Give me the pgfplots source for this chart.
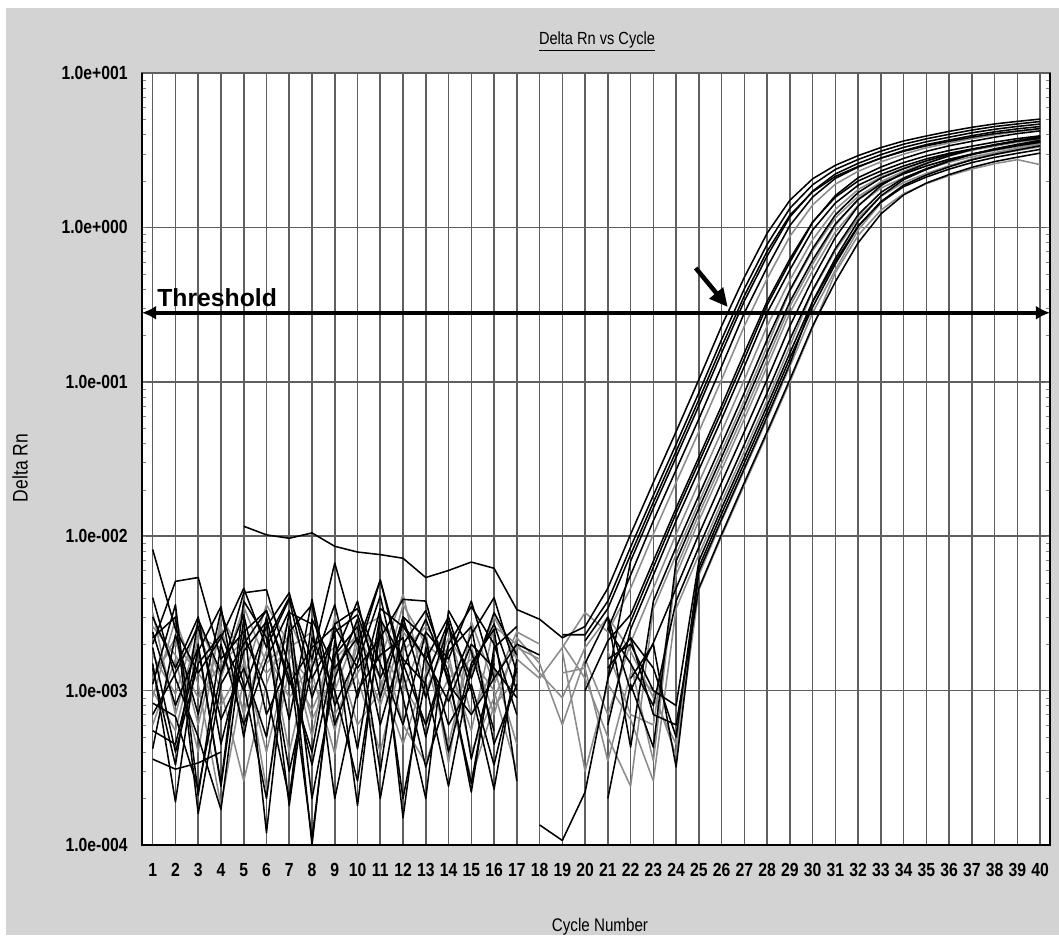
\documentclass[border=0pt]{standalone}
\usepackage{pgfplots}
\pgfplotsset{compat=1.18}
\usepackage{fontspec}
\setmainfont{Liberation Sans}
\newfontfamily\narrowfont{Liberation Sans}[FakeStretch=0.83]
\usetikzlibrary{arrows.meta}
\definecolor{bggray}{RGB}{211,211,211}
\definecolor{gridgray}{RGB}{95,95,95}
\definecolor{lgray}{RGB}{140,140,140}
\begin{document}
\begin{tikzpicture}
\useasboundingbox (0,0) rectangle (26.475cm,23.375cm);
\fill[white] (0,0) rectangle (26.475cm,23.375cm);
\fill[bggray] (0.15cm,0) rectangle (26.475cm,23.175cm);
\begin{axis}[
  at={(3.55cm,2.25cm)}, anchor=south west,
  scale only axis, width=22.7cm, height=19.3cm,
  xmin=0.53, xmax=40.43, ymode=log, ymin=1e-4, ymax=10,
  xtick={1,...,40},
  xticklabels={1,2,3,4,5,6,7,8,9,10,11,12,13,14,15,16,17,18,19,20,21,22,23,24,25,26,27,28,29,30,31,32,33,34,35,36,37,38,39,40},
  ytick={1e-4,1e-3,1e-2,1e-1,1,10},
  yticklabels={1.0e-004,1.0e-003,1.0e-002,1.0e-001,1.0e+000,1.0e+001},
  grid=major, major grid style={gridgray, line width=1.1pt},
  major tick length=0pt,
  axis line style={gridgray, line width=0.8pt},
  axis background/.style={fill=white},
  tick label style={font=\narrowfont\bfseries\fontsize{13.5}{15}\selectfont},
  xticklabel style={anchor=north, inner sep=0pt, yshift=-0.45cm},
  yticklabel style={anchor=east, inner sep=0pt, xshift=-0.35cm},
  clip=false, unbounded coords=jump,
  every axis plot/.append style={line width=1.1pt, line join=round},
]
% gray curves
\addplot[lgray] coordinates {(1,1.7e-3)(2,9.5e-4)(3,2.8e-3)(4,1.2e-3)(5,3.5e-3)(6,1.5e-3)(7,2.2e-3)(8,6.5e-4)(9,1.3e-3)(10,2.8e-3)(11,1.6e-3)(12,4.2e-3)(13,1.0e-3)(14,2.2e-3)(15,1.3e-3)(16,3.0e-3)(17,1.6e-3)(18,1.2e-3)(19,1.9e-3)(20,3.2e-3)(21,2.4e-3)(22,4.6e-3)(23,0.0103)(24,0.0223)(25,0.0476)(26,0.1035)(27,0.23)(28,0.466)(29,0.875)(30,1.40)(31,1.907)(32,2.31)(33,2.66)(34,2.98)(35,3.28)(36,3.52)(37,3.76)(38,3.98)(39,4.18)(40,4.33)};
\addplot[lgray] coordinates {(1,1.2e-3)(2,2.2e-3)(3,6.0e-4)(4,2.6e-3)(5,7.0e-4)(6,2.4e-3)(7,4.0e-4)(8,1.8e-3)(9,5.5e-4)(10,2.0e-3)(11,8.0e-4)(12,2.4e-3)(13,1.6e-3)(14,4.5e-4)(15,1.9e-3)(16,7.0e-4)(17,2.2e-3)(18,1.5e-3)(19,6.0e-4)(20,1.6e-3)(21,7.0e-4)(22,2.04e-3)(23,4.6e-3)(24,0.0103)(25,0.0223)(26,0.0476)(27,0.1035)(28,0.23)(29,0.456)(30,0.834)(31,1.309)(32,1.76)(33,2.12)(34,2.42)(35,2.70)(36,2.96)(37,3.17)(38,3.38)(39,3.57)(40,3.73)};
\addplot[lgray] coordinates {(1,2.6e-3)(2,1.7e-3)(3,9.0e-4)(4,1.5e-3)(5,2.1e-3)(6,1.3e-3)(7,1.9e-3)(8,2.4e-3)(9,1.0e-3)(10,2.5e-3)(11,3.0e-3)(12,1.1e-3)(13,6.0e-4)(14,1.2e-3)(15,1.6e-3)(16,1.0e-3)(17,3.0e-4)(18,nan)(19,2.0e-3)(20,1.2e-3)(21,5.0e-4)(22,2.4e-4)(23,3.4e-3)(24,7.6e-3)(25,0.0166)(26,0.0355)(27,0.076)(28,0.17)(29,0.388)(30,0.708)(31,1.153)(32,1.589)(33,1.955)(34,2.237)(35,2.507)(36,2.753)(37,2.96)(38,3.15)(39,3.33)(40,3.49)};
\addplot[lgray] coordinates {(1,9.0e-4)(2,2.9e-3)(3,1.1e-3)(4,1.8e-4)(5,1.2e-3)(6,3.6e-3)(7,2.0e-3)(8,5.0e-4)(9,3.0e-3)(10,1.2e-3)(11,4.0e-4)(12,1.8e-3)(13,2.6e-3)(14,1.7e-3)(15,4.0e-4)(16,9.0e-4)(17,1.9e-3)(18,1.6e-3)(19,nan)(21,1.8e-3)(22,7.0e-4)(23,6.0e-4)(24,5.6e-3)(25,0.0126)(26,0.0269)(27,0.0575)(28,0.126)(29,0.28)(30,0.525)(31,0.937)(32,1.389)(33,1.80)(34,2.10)(35,2.38)(36,2.64)(37,2.87)(38,3.05)(39,3.25)(40,3.42)};
\addplot[lgray] coordinates {(1,1.3e-3)(2,2.0e-3)(3,1.3e-3)(4,8.0e-4)(5,1.5e-3)(6,4.0e-4)(7,1.7e-3)(8,1.1e-3)(9,7.0e-4)(10,1.3e-3)(11,2.2e-3)(12,6.0e-4)(13,3.4e-4)(14,9.5e-4)(15,2.7e-4)(16,8.0e-4)(17,1.2e-3)(18,nan)(19,1.8e-3)(20,3.0e-4)(21,1.1e-3)(22,6.5e-4)(23,2.6e-4)(24,3.4e-3)(25,7.6e-3)(26,0.0166)(27,0.0355)(28,0.076)(29,0.17)(30,0.388)(31,0.708)(32,1.153)(33,1.589)(34,1.955)(35,2.237)(36,2.507)(37,2.753)(38,2.96)(39,3.15)(40,3.33)};
\addplot[lgray] coordinates {(1,1.0e-3)(2,5.5e-4)(3,2.2e-3)(4,1.9e-3)(5,7.5e-4)(6,1.8e-3)(7,9.0e-4)(8,1.5e-3)(9,1.9e-3)(10,6.0e-4)(11,1.0e-3)(12,3.6e-3)(13,2.0e-3)(14,1.5e-3)(15,5.5e-4)(16,2.6e-3)(17,2.0e-3)(18,1.3e-3)(19,9.0e-4)(20,1.9e-3)(21,3.0e-3)(22,1.8e-3)(23,9.0e-4)(24,4.5e-4)(25,5.6e-3)(26,0.0126)(27,0.0269)(28,0.0575)(29,0.126)(30,0.28)(31,0.532)(32,0.962)(33,1.44)(34,1.876)(35,2.20)(36,2.50)(37,2.78)(38,3.02)(39,3.22)(40,3.43)};
\addplot[lgray] coordinates {(1,6.0e-4)(2,1.6e-3)(3,4.0e-4)(4,3.0e-3)(5,1.7e-3)(6,2.3e-4)(7,1.4e-3)(8,7.5e-4)(9,1.6e-3)(10,2.3e-3)(11,1.2e-3)(12,4.5e-4)(13,1.3e-3)(14,2.5e-3)(15,7.0e-4)(16,1.4e-3)(17,4.5e-4)(18,nan)(19,1.3e-3)(20,1.4e-3)(21,3.5e-4)(22,1.3e-3)(23,1.0e-3)(24,3.8e-4)(25,4.5e-3)(26,0.010)(27,0.0215)(28,0.046)(29,0.10)(30,0.224)(31,0.51)(32,0.888)(33,1.294)(34,1.657)(35,1.922)(36,2.165)(37,2.39)(38,2.587)(39,2.746)(40,2.55)};
\addplot[lgray] coordinates {(1,3.2e-3)(2,7.0e-4)(3,2.4e-3)(4,1.0e-3)(5,2.6e-4)(6,1.1e-3)(7,2.9e-3)(8,1.3e-3)(9,3.9e-4)(10,2.4e-3)(11,1.9e-3)(12,1.0e-3)(13,2.4e-3)(14,3.4e-4)(15,2.8e-3)(16,1.1e-3)(17,2.4e-3)(18,2.0e-3)(19,nan)(22,1.5e-3)(23,3.5e-4)(24,6.2e-3)(25,0.0139)(26,0.0296)(27,0.0633)(28,0.139)(29,0.308)(30,0.578)(31,1.031)(32,1.528)(33,1.98)(34,2.31)(35,2.62)(36,2.90)(37,3.16)(38,3.36)(39,3.58)(40,3.76)};
% black curves
\addplot[black] coordinates {(5,1.16e-2)(6,1.02e-2)(7,9.7e-3)(8,1.05e-2)(9,8.6e-3)(10,7.9e-3)(11,7.6e-3)(12,7.2e-3)(13,5.4e-3)(14,6.0e-3)(15,6.8e-3)(16,6.2e-3)(17,3.35e-3)(18,2.9e-3)(19,2.2e-3)(20,2.6e-3)(21,4.6e-3)(22,0.0103)(23,0.0223)(24,0.0476)(25,0.1035)(26,0.23)(27,0.476)(28,0.917)(29,1.50)(30,2.065)(31,2.527)(32,2.917)(33,3.29)(34,3.63)(35,3.91)(36,4.19)(37,4.45)(38,4.68)(39,4.86)(40,5.03)};
\addplot[black] coordinates {(1,8.2e-3)(2,2.5e-3)(3,1.3e-3)(4,2.2e-3)(5,4.6e-3)(6,1.9e-3)(7,3.9e-3)(8,9.0e-4)(9,2.4e-3)(10,3.1e-3)(11,1.2e-3)(12,2.7e-3)(13,1.6e-3)(14,8.5e-4)(15,2.0e-3)(16,1.4e-3)(17,9.0e-4)(18,nan)(19,2.3e-3)(20,2.3e-3)(21,3.8e-3)(22,8.5e-3)(23,0.0184)(24,0.0394)(25,0.085)(26,0.188)(27,0.401)(28,0.777)(29,1.33)(30,1.89)(31,2.375)(32,2.754)(33,3.12)(34,3.46)(35,3.75)(36,4.01)(37,4.27)(38,4.50)(39,4.68)(40,4.85)};
\addplot[black] coordinates {(1,4.2e-4)(2,2.3e-3)(3,7.0e-4)(4,3.3e-3)(5,1.1e-3)(6,2.0e-4)(7,2.4e-3)(8,3.6e-3)(9,6.0e-4)(10,1.5e-3)(11,4.1e-3)(12,9.0e-4)(13,2.0e-4)(14,3.3e-3)(15,1.8e-3)(16,5.5e-4)(17,nan)(20,2.1e-3)(21,3.4e-3)(22,7.6e-3)(23,0.0166)(24,0.0355)(25,0.0765)(26,0.169)(27,0.361)(28,0.70)(29,1.20)(30,1.70)(31,2.14)(32,2.48)(33,2.81)(34,3.11)(35,3.38)(36,3.61)(37,3.84)(38,4.05)(39,4.21)(40,4.37)};
\addplot[black] coordinates {(1,2.0e-3)(2,5.1e-3)(3,5.4e-3)(4,1.6e-3)(5,2.4e-3)(6,3.3e-3)(7,1.1e-3)(8,1.9e-3)(9,2.6e-3)(10,1.4e-3)(11,2.2e-3)(12,3.9e-3)(13,3.8e-3)(14,1.1e-3)(15,7e-4)(16,1.2e-3)(17,nan)(18,1.35e-4)(19,1.07e-4)(20,2.2e-4)(21,1.2e-3)(22,6.9e-3)(23,0.0152)(24,0.0325)(25,0.070)(26,0.154)(27,0.334)(28,0.653)(29,1.168)(30,1.72)(31,2.22)(32,2.60)(33,2.96)(34,3.30)(35,3.59)(36,3.84)(37,4.10)(38,4.32)(39,4.51)(40,4.67)};
\addplot[black] coordinates {(1,3.6e-4)(2,3.1e-4)(3,3.4e-4)(4,4.0e-4)(5,nan)(6,2.1e-3)(7,4.0e-3)(8,1.6e-3)(9,6.7e-3)(10,2.0e-3)(11,5.2e-3)(12,1.5e-3)(13,6.0e-4)(14,1.8e-3)(15,2.6e-3)(16,4.5e-4)(17,1.1e-3)(18,nan)(21,2.5e-3)(22,5.6e-3)(23,0.0126)(24,0.0269)(25,0.0575)(26,0.126)(27,0.28)(28,0.551)(29,1.029)(30,1.573)(31,2.08)(32,2.46)(33,2.81)(34,3.145)(35,3.44)(36,3.68)(37,3.93)(38,4.16)(39,4.35)(40,4.50)};
\addplot[black] coordinates {(1,8.3e-4)(2,6.8e-4)(3,2.3e-4)(4,1.3e-3)(5,4.3e-3)(6,4.5e-3)(7,1.4e-3)(8,3.3e-4)(9,1.7e-3)(10,3.8e-3)(11,9.0e-4)(12,3.0e-3)(13,2.2e-3)(14,4.0e-4)(15,1.5e-3)(16,2.5e-3)(17,2.6e-4)(18,nan)(20,1.0e-3)(21,2.1e-3)(22,3.1e-3)(23,6.9e-3)(24,0.0152)(25,0.0325)(26,0.070)(27,0.154)(28,0.332)(29,0.625)(30,1.086)(31,1.57)(32,2.00)(33,2.32)(34,2.63)(35,2.91)(36,3.15)(37,3.36)(38,3.57)(39,3.76)(40,3.92)};
\addplot[black] coordinates {(1,1.5e-3)(2,1.9e-4)(3,2.0e-3)(4,2.4e-4)(5,2.9e-3)(6,1.2e-4)(7,2.6e-3)(8,1.0e-4)(9,2.1e-3)(10,4.2e-4)(11,3.1e-3)(12,1.5e-4)(13,1.9e-3)(14,6.0e-4)(15,1.1e-3)(16,3.3e-4)(17,1.4e-3)(18,nan)(21,6.0e-4)(22,2.5e-3)(23,5.6e-3)(24,0.0126)(25,0.0269)(26,0.0575)(27,0.126)(28,0.28)(29,0.532)(30,0.962)(31,1.44)(32,1.876)(33,2.20)(34,2.50)(35,2.78)(36,3.02)(37,3.22)(38,3.43)(39,3.62)(40,3.77)};
\addplot[black] coordinates {(1,1.1e-3)(2,3.6e-3)(3,2.1e-4)(4,2.0e-3)(5,6.0e-4)(6,1.6e-3)(7,3.3e-3)(8,2.0e-4)(9,1.2e-3)(10,2.9e-3)(11,6.0e-4)(12,2.0e-3)(13,3.3e-3)(14,1.3e-3)(15,2.2e-4)(16,1.9e-3)(17,2.6e-3)(18,nan)(21,1.2e-3)(22,2.8e-3)(23,6.3e-3)(24,0.0141)(25,0.0301)(26,0.0644)(27,0.141)(28,0.314)(29,0.596)(30,1.077)(31,1.61)(32,2.10)(33,2.46)(34,2.80)(35,3.11)(36,3.38)(37,3.61)(38,3.84)(39,4.05)(40,4.22)};
\addplot[black] coordinates {(1,3.0e-3)(2,1.4e-3)(3,3.0e-3)(4,4.5e-4)(5,1.8e-3)(6,2.8e-3)(7,1.8e-4)(8,2.2e-3)(9,1.0e-3)(10,2.6e-4)(11,2.4e-3)(12,2.0e-4)(13,1.2e-3)(14,2.8e-3)(15,3.6e-4)(16,1.5e-3)(17,nan)(20,1.5e-3)(21,3.0e-3)(22,4.3e-4)(23,3.8e-3)(24,8.5e-3)(25,0.0184)(26,0.0394)(27,0.085)(28,0.188)(29,0.393)(30,0.730)(31,1.208)(32,1.684)(33,2.086)(34,2.40)(35,2.70)(36,2.97)(37,3.20)(38,3.41)(39,3.62)(40,3.80)};
\addplot[black] coordinates {(1,5.5e-4)(2,4.5e-4)(3,1.8e-3)(4,3.5e-3)(5,5.0e-4)(6,3.0e-3)(7,6.5e-4)(8,3.9e-3)(9,8.0e-4)(10,1.7e-3)(11,5.2e-3)(12,1.3e-3)(13,3.2e-4)(14,1.0e-3)(15,2.3e-3)(16,4.0e-3)(17,1.3e-3)(18,nan)(21,2.0e-4)(22,1.1e-3)(23,4.3e-4)(24,6.9e-3)(25,0.0152)(26,0.0325)(27,0.070)(28,0.154)(29,0.330)(30,0.615)(31,1.054)(32,1.514)(33,1.916)(34,2.22)(35,2.50)(36,2.765)(37,2.99)(38,3.185)(39,3.38)(40,3.555)};
\addplot[black] coordinates {(1,1.9e-3)(2,4.0e-4)(3,1.5e-3)(4,2.3e-3)(5,1.0e-3)(6,2.6e-3)(7,4.3e-3)(8,1.2e-3)(9,2.3e-3)(10,1.8e-4)(11,2.9e-3)(12,1.6e-3)(13,1.1e-3)(14,2.4e-4)(15,1.4e-3)(16,2.7e-3)(17,1.0e-3)(18,nan)(21,3.0e-3)(22,1.0e-3)(23,2.04e-3)(24,4.6e-3)(25,0.0103)(26,0.0223)(27,0.0476)(28,0.1035)(29,0.23)(30,0.463)(31,0.864)(32,1.376)(33,1.869)(34,2.263)(35,2.595)(36,2.91)(37,3.195)(38,3.43)(39,3.66)(40,3.88)};
\addplot[black] coordinates {(1,4.0e-3)(2,1.2e-3)(3,5.0e-4)(4,1.7e-4)(5,2.3e-3)(6,1.0e-3)(7,2.0e-4)(8,2.9e-3)(9,1.4e-3)(10,2.2e-3)(11,2.0e-4)(12,1.4e-3)(13,2.9e-3)(14,1.2e-3)(15,2.5e-4)(16,1.7e-3)(17,nan)(21,2.5e-3)(22,1.5e-3)(23,8.0e-4)(24,3.8e-3)(25,8.5e-3)(26,0.0184)(27,0.0394)(28,0.085)(29,0.188)(30,0.393)(31,0.730)(32,1.208)(33,1.684)(34,2.086)(35,2.40)(36,2.70)(37,2.97)(38,3.20)(39,3.41)(40,3.62)};
\addplot[black] coordinates {(1,7.0e-4)(2,1.3e-3)(3,2.6e-3)(4,6.5e-4)(5,1.4e-3)(6,5.0e-4)(7,3.2e-3)(8,2.7e-3)(9,2.0e-4)(10,1.0e-3)(11,1.7e-3)(12,2.2e-3)(13,5.0e-4)(14,2.0e-3)(15,3.5e-3)(16,2.0e-3)(17,7.0e-4)(18,nan)(21,1.6e-3)(22,2.0e-3)(23,1.0e-3)(24,8.0e-4)(25,6.9e-3)(26,0.0152)(27,0.0325)(28,0.070)(29,0.154)(30,0.332)(31,0.631)(32,1.102)(33,1.60)(34,2.04)(35,2.375)(36,2.69)(37,2.98)(38,3.23)(39,3.45)(40,3.67)};
\addplot[black] coordinates {(1,1.4e-3)(2,3.3e-4)(3,2.9e-3)(4,1.3e-3)(5,3.1e-3)(6,7.0e-4)(7,1.5e-3)(8,1.1e-4)(9,1.7e-3)(10,2.6e-3)(11,3.0e-4)(12,3.0e-3)(13,9.0e-4)(14,2.6e-3)(15,1.2e-3)(16,3.2e-3)(17,1.7e-3)(18,nan)(22,2.2e-3)(23,1.4e-3)(24,5.0e-4)(25,6.3e-3)(26,0.014)(27,0.0299)(28,0.0644)(29,0.142)(30,0.305)(31,0.581)(32,1.014)(33,1.47)(34,1.88)(35,2.185)(36,2.47)(37,2.74)(38,2.97)(39,3.17)(40,3.38)};
\addplot[black] coordinates {(1,2.4e-3)(2,8.0e-4)(3,1.9e-3)(4,2.5e-4)(5,3.8e-3)(6,2.2e-3)(7,3.0e-4)(8,1.4e-3)(9,3.6e-3)(10,9.0e-4)(11,3.4e-3)(12,2.6e-3)(13,1.6e-3)(14,3.0e-3)(15,1.0e-3)(16,2.3e-4)(17,1.6e-3)(18,nan)(22,1.2e-3)(23,2.0e-3)(24,3.2e-4)(25,5.9e-3)(26,0.0129)(27,0.0276)(28,0.0595)(29,0.131)(30,0.329)(31,0.604)(32,1.024)(33,1.458)(34,1.837)(35,2.12)(36,2.385)(37,2.63)(38,2.84)(39,3.02)(40,3.20)};
\addplot[black] coordinates {(1,2.2e-3)(2,3.0e-3)(3,1.6e-4)(4,1.1e-3)(5,2.0e-3)(6,3.3e-3)(7,1.2e-3)(8,4.0e-4)(9,2.7e-3)(10,3.4e-3)(11,1.5e-3)(12,6.0e-4)(13,2.4e-3)(14,1.6e-3)(15,3.8e-3)(16,1.2e-3)(17,2.0e-3)(18,1.7e-3)(19,nan)(21,1.4e-3)(22,2.2e-3)(23,7.0e-4)(24,6.0e-4)(25,4.6e-3)(26,0.0103)(27,0.0223)(28,0.0476)(29,0.1035)(30,0.23)(31,0.446)(32,0.796)(33,1.223)(34,1.625)(35,1.94)(36,2.20)(37,2.45)(38,2.67)(39,2.85)(40,3.03)};
% threshold
\addplot[black, line width=3pt, {Latex[length=10pt,width=10pt]}-{Latex[length=10pt,width=10pt]}] coordinates {(0.53,0.28) (40.43,0.28)};
\draw[black, line width=3.2pt, -{Triangle[length=13pt,width=12pt]}] (axis cs:24.86,0.546) -- (axis cs:26.27,0.305);
\draw[black, line width=1.8pt] (rel axis cs:0,1) -- (rel axis cs:0,0) -- (rel axis cs:1,0) -- (rel axis cs:1,1);
\end{axis}
\node[anchor=base west, inner sep=0pt, font=\bfseries\fontsize{17.6}{20}\selectfont] at (3.925cm,15.7cm) {Threshold};
\node[anchor=base, inner sep=0pt, font=\narrowfont\fontsize{12.5}{14}\selectfont] at (14.925cm,22.25cm) {\underline{Delta Rn vs Cycle}};
\node[anchor=base, inner sep=0pt, font=\narrowfont\fontsize{13}{15}\selectfont] at (15.0cm,0.1cm) {Cycle Number};
\node[rotate=90, inner sep=0pt, font=\narrowfont\fontsize{15}{17}\selectfont] at (0.5cm,11.675cm) {Delta Rn};
\end{tikzpicture}
\end{document}
